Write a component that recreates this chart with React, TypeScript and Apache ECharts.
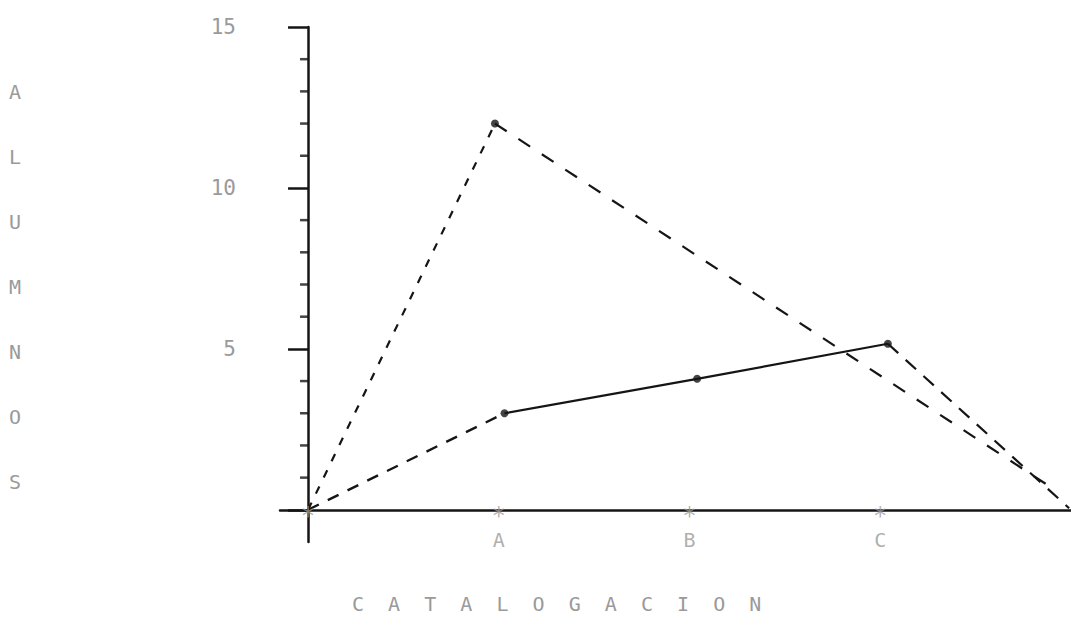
import React, { useEffect, useRef } from "react";
import * as echarts from "echarts";

// ---- data ----
const categoryLabels = ["A", "B", "C"];
const categoryPositions = [1, 2, 3];
const markerPositions = [0, 1, 2, 3];

// series 1 (dashed, peak at A)
const highX = [0, 0.98, 3.9];
const highY = [0, 12, 0.68];

// series 2 (dashed to A, solid A-B-C, dashed down)
const lowX = [0, 1.03, 2.04, 3.04, 3.99];
const lowY = [0, 3, 4.07, 5.16, 0.05];

const yMajorTicks = [0, 5, 10, 15];
const yTickLabels = [5, 10, 15];
const yMinorTicks = [1, 2, 3, 4, 6, 7, 8, 9, 11, 12, 13, 14];

const yTitle = "ALUMNOS";
const xTitle = "CATALOGACION";

const pairs = (xs: number[], ys: number[]) => xs.map((x, i) => [x, ys[i]]);

export default function App() {
  const ref = useRef<HTMLDivElement>(null);
  useEffect(() => {
    if (!ref.current) return;
    const chart = echarts.init(ref.current, null, { renderer: "svg" });
    const FONT = "DejaVu Sans Mono";
    const GREY = "#9a9a9a";
    const INK = "#151515";
    const high = pairs(highX, highY);
    const low = pairs(lowX, lowY);

    chart.setOption({
      animation: false,
      backgroundColor: "#ffffff",
      grid: { left: 280, right: 0, top: 27, bottom: 78, containLabel: false },
      xAxis: {
        type: "value",
        min: -0.147,
        max: 4,
        splitLine: { show: false },
        axisLine: { onZero: true, lineStyle: { color: INK, width: 2.5 } },
        axisTick: { show: false },
        axisLabel: { show: false },
      },
      yAxis: {
        type: "value",
        min: -1,
        max: 15,
        splitLine: { show: false },
        axisLine: { onZero: true, lineStyle: { color: INK, width: 2.5 } },
        axisTick: {
          customValues: yMajorTicks,
          length: 20,
          lineStyle: { color: INK, width: 2.5 },
        },
        axisLabel: {
          customValues: yTickLabels,
          margin: 44,
          color: GREY,
          fontFamily: FONT,
          fontSize: 21,
        },
      },
      graphic: [
        {
          type: "text",
          left: 9,
          top: 59,
          style: {
            text: yTitle.split("").join("\n"),
            font: `20px "${FONT}"`,
            fill: GREY,
            lineHeight: 65,
          },
        },
        {
          type: "text",
          left: 352,
          top: 594,
          style: {
            text: xTitle.split("").join("  "),
            font: `20px "${FONT}"`,
            fill: GREY,
          },
        },
      ],
      series: [
        {
          type: "line",
          data: [high[0], high[1]],
          symbol: "none",
          lineStyle: { color: INK, width: 2.2, type: [8, 10] },
        },
        {
          type: "line",
          data: [high[1], high[2]],
          symbol: "none",
          lineStyle: { color: INK, width: 2.2, type: [14, 14] },
        },
        {
          type: "line",
          data: [low[0], low[1]],
          symbol: "none",
          lineStyle: { color: INK, width: 2.4, type: [12, 10] },
        },
        {
          type: "line",
          data: [low[1], low[2], low[3]],
          symbol: "none",
          lineStyle: { color: INK, width: 2.2 },
        },
        {
          type: "line",
          data: [low[3], low[4]],
          symbol: "none",
          lineStyle: { color: INK, width: 2.2, type: [14, 10] },
        },
        {
          type: "scatter",
          data: [high[1], low[1], low[2], low[3]],
          symbol: "circle",
          symbolSize: 8,
          itemStyle: { color: INK },
        },
        {
          type: "scatter",
          data: yMinorTicks.map((v) => [0, v]),
          symbol: "rect",
          symbolSize: [8, 2.5],
          symbolOffset: [-4, 0],
          itemStyle: { color: INK },
        },
        {
          type: "scatter",
          data: markerPositions.map((x) => [x, 0]),
          symbol: "circle",
          symbolSize: 1,
          itemStyle: { color: "rgba(0,0,0,0)" },
          label: {
            show: true,
            position: "inside",
            formatter: "*",
            color: GREY,
            fontFamily: FONT,
            fontSize: 24,
            lineHeight: 14,
            offset: [0, 6],
          },
          z: 5,
        },
        {
          type: "scatter",
          data: categoryPositions.map((x) => [x, 0]),
          symbol: "circle",
          symbolSize: 1,
          itemStyle: { color: "rgba(0,0,0,0)" },
          label: {
            show: true,
            position: "inside",
            formatter: (p: any) => categoryLabels[p.dataIndex],
            color: GREY,
            fontFamily: FONT,
            fontSize: 20,
            lineHeight: 20,
            offset: [0, 30],
          },
        },
      ],
    });
    return () => chart.dispose();
  }, []);
  return (
    <div
      ref={ref}
      style={{ position: "absolute", left: 0, top: 0, width: 1071, height: 620 }}
    />
  );
}
